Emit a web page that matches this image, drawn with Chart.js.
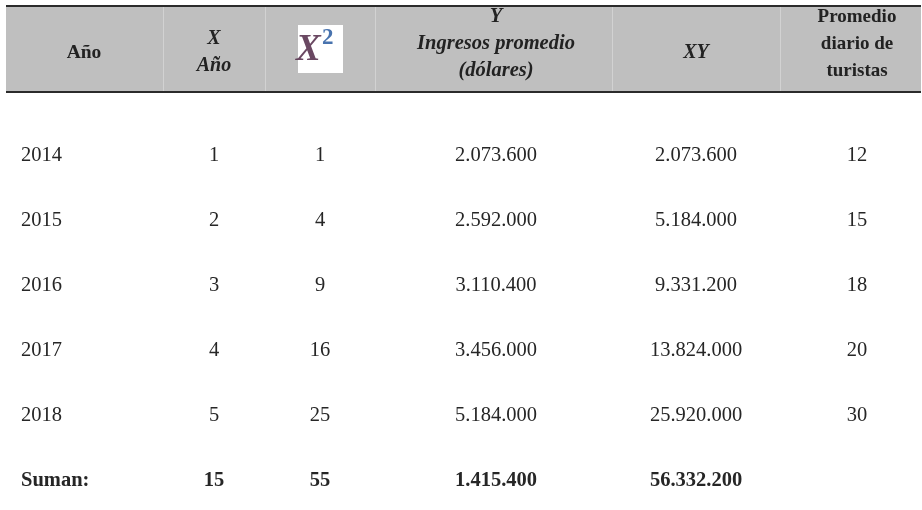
<!DOCTYPE html>
<html>
<head>
<meta charset="utf-8">
<script src="https://cdn.jsdelivr.net/npm/chart.js@4.4.0/dist/chart.umd.min.js"></script>
<style>
html,body{margin:0;padding:0;background:#fff;}
#c{display:block;}
</style>
</head>
<body>
<canvas id="c" width="922" height="510"></canvas>
<script>
// ---- data ----
const years = ["2014", "2015", "2016", "2017", "2018"];
const xAnio = [1, 2, 3, 4, 5];
const x2 = [1, 4, 9, 16, 25];
const ingresos = ["2.073.600", "2.592.000", "3.110.400", "3.456.000", "5.184.000"];
const xy = ["2.073.600", "5.184.000", "9.331.200", "13.824.000", "25.920.000"];
const turistas = [12, 15, 18, 20, 30];
const sumLabel = "Suman:";
const sums = ["15", "55", "1.415.400", "56.332.200", ""];
const headers = [
  {lines: ["Año"], style: "bold"},
  {lines: ["X", "Año"], style: "italic bold"},
  {lines: ["X²"], style: "image"},
  {lines: ["Y", "Ingresos promedio", "(dólares)"], style: "italic bold"},
  {lines: ["XY"], style: "italic bold"},
  {lines: ["Promedio", "diario de", "turistas"], style: "bold"}
];

// ---- layout (style only) ----
const colCenters = [84, 214, 320, 496, 696, 857];
const colEdges = [6, 163, 265, 375, 612, 780, 921];
const headerMid = [53, 52, 0, 44, 53, 44];
const headerSize = [19.5, 20, 0, 20.5, 20, 19];
const firstColLeft = 21;
const rowLabels = years.concat([sumLabel]);
const FONT = '"Liberation Serif","Times New Roman",serif';

const columns = [
  years, xAnio.map(String), x2.map(String), ingresos, xy, turistas.map(String)
];

const datasets = columns.map((col, ci) => ({
  label: "col" + ci,
  data: rowLabels.map((r, ri) => ({
    x: colCenters[ci],
    y: r,
    t: ri < years.length ? col[ri] : (ci === 0 ? sumLabel : sums[ci - 1]),
    bold: ri === years.length
  })),
  pointRadius: 0,
  showLine: false
}));

const tablePlugin = {
  id: "tablePlugin",
  beforeDraw(chart) {
    const ctx = chart.ctx;
    ctx.save();
    ctx.fillStyle = "#fff";
    ctx.fillRect(0, 0, chart.width, chart.height);
    const hTop = 6, hBot = 92;
    ctx.fillStyle = "#bfbfbf";
    ctx.fillRect(colEdges[0], hTop, colEdges[colEdges.length - 1] - colEdges[0], hBot - hTop);
    ctx.strokeStyle = "rgba(215,215,215,0.8)";
    ctx.lineWidth = 1;
    for (let i = 1; i < colEdges.length - 1; i++) {
      ctx.beginPath();
      ctx.moveTo(colEdges[i] + 0.5, hTop);
      ctx.lineTo(colEdges[i] + 0.5, hBot);
      ctx.stroke();
    }
    ctx.fillStyle = "#222";
    ctx.textAlign = "center";
    ctx.textBaseline = "middle";
    headers.forEach((h, i) => {
      const cx = colCenters[i];
      if (h.style === "image") {
        ctx.fillStyle = "#fff";
        ctx.fillRect(298, 25, 45, 48);
        ctx.textAlign = "left";
        ctx.textBaseline = "alphabetic";
        ctx.fillStyle = "rgba(80,40,70,0.85)";
        ctx.font = "italic bold 37px " + FONT;
        ctx.fillText("X", 296, 60);
        ctx.fillStyle = "rgba(40,90,160,0.85)";
        ctx.font = "bold 23px " + FONT;
        ctx.fillText("2", 322, 44);
        ctx.fillStyle = "#222";
        ctx.textAlign = "center";
        ctx.textBaseline = "middle";
        return;
      }
      ctx.font = h.style + " " + headerSize[i] + "px " + FONT;
      const n = h.lines.length;
      const lh = 27;
      h.lines.forEach((ln, li) => {
        ctx.fillText(ln, cx, headerMid[i] + (li - (n - 1) / 2) * lh);
      });
    });
    ctx.strokeStyle = "#2b2b2b";
    ctx.lineWidth = 2;
    ctx.beginPath();
    ctx.moveTo(colEdges[0], hTop); ctx.lineTo(colEdges[colEdges.length - 1], hTop);
    ctx.moveTo(colEdges[0], hBot); ctx.lineTo(colEdges[colEdges.length - 1], hBot);
    ctx.stroke();
    ctx.restore();
  },
  afterDatasetsDraw(chart) {
    const ctx = chart.ctx;
    ctx.save();
    ctx.fillStyle = "#262626";
    ctx.textBaseline = "middle";
    chart.data.datasets.forEach((ds, di) => {
      const meta = chart.getDatasetMeta(di);
      meta.data.forEach((el, i) => {
        const d = ds.data[i];
        if (!d.t) return;
        ctx.font = (d.bold ? "bold " : "") + "20.5px " + FONT;
        if (di === 0) {
          ctx.textAlign = "left";
          ctx.fillText(d.t, firstColLeft, el.y);
        } else {
          ctx.textAlign = "center";
          ctx.fillText(d.t, el.x, el.y);
        }
      });
    });
    ctx.restore();
  }
};

new Chart(document.getElementById("c"), {
  type: "scatter",
  data: { datasets },
  options: {
    responsive: false,
    animation: false,
    layout: { padding: { top: 155.5, bottom: 29, left: 0, right: 0 } },
    plugins: { legend: { display: false }, tooltip: { enabled: false } },
    scales: {
      x: { type: "linear", min: 0, max: 922, display: false },
      y: { type: "category", labels: rowLabels, offset: false, display: false }
    }
  },
  plugins: [tablePlugin]
});
</script>
</body>
</html>
